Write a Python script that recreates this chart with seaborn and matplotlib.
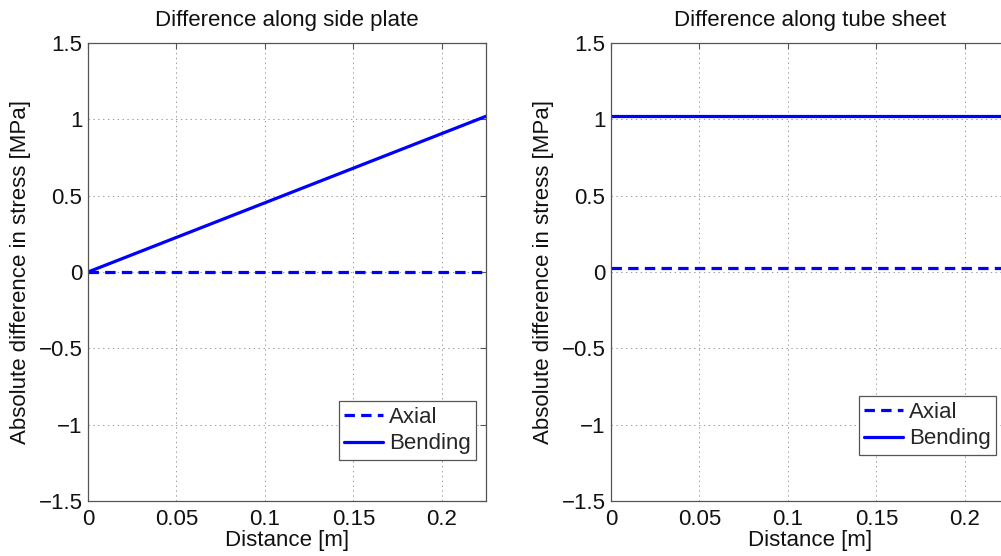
import matplotlib
matplotlib.use("Agg")
import matplotlib.pyplot as plt
import seaborn as sns
import pandas as pd

# Data
dist = [0.0, 0.225]
side_axial = [0.0, 0.0]
side_bending = [0.0, 1.02]
tube_axial = [0.025, 0.025]
tube_bending = [1.02, 1.02]

titles = ["Difference along side plate", "Difference along tube sheet"]
xticks = [0, 0.05, 0.1, 0.15, 0.2]
xticklabels = ["0", "0.05", "0.1", "0.15", "0.2"]
yticks = [-1.5, -1, -0.5, 0, 0.5, 1, 1.5]
yticklabels = ["\u22121.5", "\u22121", "\u22120.5", "0", "0.5", "1", "1.5"]

sns.set_style("white")
plt.rcParams["font.family"] = ["Liberation Sans", "DejaVu Sans"]
plt.rcParams["lines.scale_dashes"] = False

FS = 16
fig = plt.figure(figsize=(10.01, 5.56), dpi=100)
W, H = 1001, 556
ax_w = 398 / W
ax_h = 458 / H
bottom = 55 / H
axes = [fig.add_axes([88 / W, bottom, ax_w, ax_h]),
        fig.add_axes([611 / W, bottom, ax_w, ax_h])]

series = [(side_axial, side_bending), (tube_axial, tube_bending)]

for i, (ax, (ax_vals, bd_vals)) in enumerate(zip(axes, series)):
    df = pd.DataFrame({"x": dist, "axial": ax_vals, "bending": bd_vals})
    sns.lineplot(data=df, x="x", y="axial", ax=ax, color="#0000ff", lw=2.3,
                 label="Axial")
    ax.lines[-1].set_dashes((7.5, 4.5))
    sns.lineplot(data=df, x="x", y="bending", ax=ax, color="#0000ff", lw=2.3,
                 label="Bending")
    ax.set_xlim(0, 0.225)
    ax.set_ylim(-1.5, 1.5)
    ax.set_xticks(xticks)
    ax.set_xticklabels(xticklabels)
    ax.set_yticks(yticks)
    ax.set_yticklabels(yticklabels)
    ax.grid(True, linestyle=(0, (1, 2.5)), color="#9a9a9a", lw=0.7)
    ax.tick_params(direction="in", length=4, width=0.8, color="#555555",
                   top=True, right=True, labelsize=FS, labelcolor="#111111")
    ax.tick_params(axis="y", pad=4)
    ax.tick_params(axis="x", pad=6)
    for s in ax.spines.values():
        s.set_color("#555555")
        s.set_linewidth(0.9)
    ax.set_title(titles[i], fontsize=FS, pad=12, color="#111111")
    ax.set_xlabel("Distance [m]", fontsize=FS, labelpad=0, color="#111111")
    ax.set_ylabel("Absolute difference in stress [MPa]", fontsize=FS,
                  labelpad=5, color="#111111")

# Legends
fig_leg_pos = [(476 / W, 460 / H), (996 / W, 455 / H)]
for ax, (xr, yb) in zip(axes, fig_leg_pos):
    handles, labels = ax.get_legend_handles_labels()
    leg = ax.legend(handles, labels, loc="lower right",
                    bbox_to_anchor=(xr, 1 - yb), bbox_transform=fig.transFigure,
                    fontsize=FS, frameon=True, fancybox=False, framealpha=1,
                    handlelength=1.75, handletextpad=0.25, borderpad=0.25,
                    labelspacing=0.25, borderaxespad=0)
    leg.get_frame().set_edgecolor("#555555")
    leg.get_frame().set_linewidth(0.9)

fig.savefig("out.png", dpi=100)
